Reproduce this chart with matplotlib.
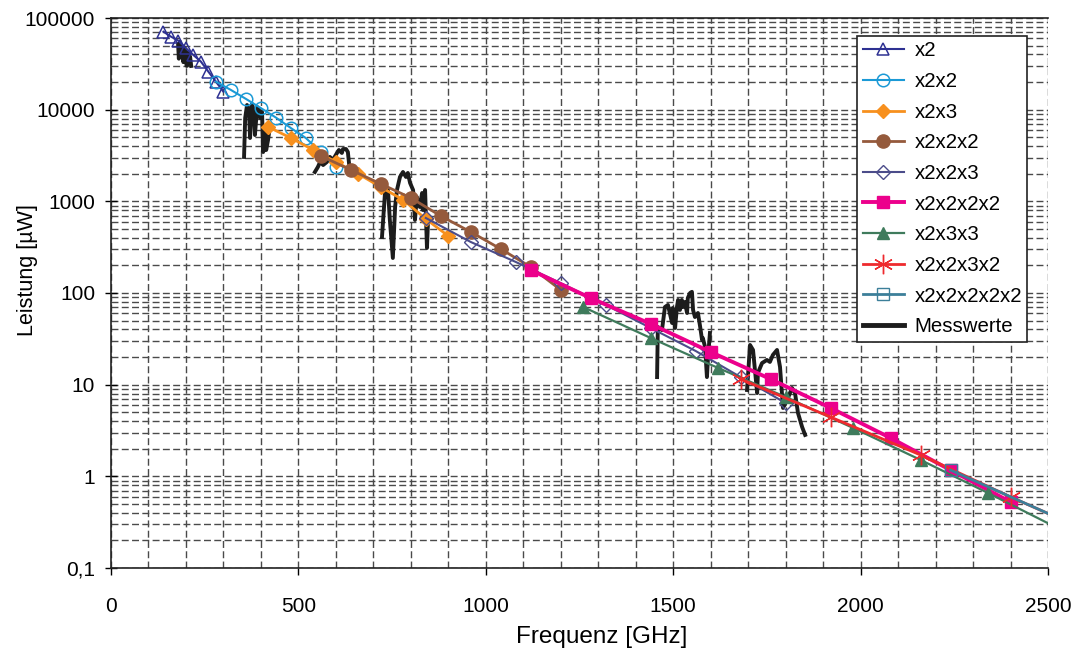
import numpy as np
import matplotlib
matplotlib.use("Agg")
import matplotlib.pyplot as plt
from matplotlib.ticker import FixedLocator, MultipleLocator, FuncFormatter, NullFormatter

plt.rcParams['font.family'] = ['Liberation Sans', 'DejaVu Sans']

# Frequency [GHz] and output power [µW] of each multiplier chain
f_x2 = [140, 160, 180, 200, 220, 240, 260, 280, 300]
p_x2 = [70900, 62600, 56500, 46700, 39400, 33400, 25900, 20200, 15700]

f_x2x2 = [280, 320, 360, 400, 440, 480, 520, 560, 600]
p_x2x2 = [20200, 16400, 13100, 10400, 8200, 6300, 4900, 3450, 2370]

f_x2x3 = [420, 480, 540, 600, 660, 720, 780, 840, 900]
p_x2x3 = [6470, 4910, 3630, 2690, 1990, 1430, 1034, 642, 419]

f_x2x2x2 = [560, 640, 720, 800, 880, 960, 1040, 1120, 1200]
p_x2x2x2 = [3130, 2200, 1550, 1090, 692, 463, 302, 192, 108]

f_x2x2x3 = [840, 960, 1080, 1200, 1320, 1440, 1560, 1680, 1800]
p_x2x2x3 = [658, 360, 218, 128, 74, 41.5, 23.3, 12.1, 6.3]

f_x2x2x2x2 = [1120, 1280, 1440, 1600, 1760, 1920, 2080, 2240, 2400]
p_x2x2x2x2 = [178, 88, 46, 22.7, 11.5, 5.57, 2.62, 1.17, 0.525]

f_x2x3x3 = [1260, 1440, 1620, 1800, 1980, 2160, 2340, 2520]
p_x2x3x3 = [70.3, 32.3, 15.2, 7.34, 3.37, 1.51, 0.658, 0.28]

f_x2x2x3x2 = [1680, 1920, 2160, 2400, 2640]
p_x2x2x3x2 = [11.5, 4.43, 1.71, 0.596, 0.22]

f_x2x2x2x2x2 = [2240, 2560]
p_x2x2x2x2x2 = [1.17, 0.306]

# Measured power, one sweep per frequency band
mess_f_1 = [179, 181, 184, 187, 190, 193, 196, 199, 202, 205, 208, 211, 214]
mess_p_1 = [52000, 36000, 55000, 47000, 41000, 33000, 47000, 40000, 30000, 42000, 32000, 38000, 30000]

mess_f_2 = [355, 358, 363, 368, 371, 376, 382, 384, 390, 395, 398, 403, 406, 411, 414, 419, 422]
mess_p_2 = [3050, 8110, 11250, 9910, 4910, 11540, 9430, 5290, 10680, 9910, 8110, 9430, 3450, 6310, 3630, 4670, 5700]

mess_f_3 = [544, 552, 558, 566, 576, 584, 592, 603, 608, 616, 619, 627, 632, 635]
mess_p_3 = [2090, 2370, 2690, 2490, 2690, 3050, 2830, 3370, 3630, 3370, 3720, 3720, 3450, 2620]

mess_f_4 = [723, 731, 739, 744, 752, 758, 763, 771, 779, 787, 792, 798, 806, 811, 816, 824, 830, 832, 838, 843, 846]
mess_p_4 = [408, 1233, 1330, 626, 241, 867, 1330, 1845, 2090, 1845, 2040, 1585, 1330, 626, 1115, 867, 1233, 805, 1330, 310, 626]

mess_f_5 = [1457, 1459, 1470, 1478, 1486, 1497, 1499, 1505, 1510, 1513, 1518, 1523, 1526, 1531,
            1537, 1539, 1545, 1550, 1553, 1558, 1566, 1572, 1577, 1579, 1585, 1590, 1593, 1598]
mess_p_5 = [12.1, 42.6, 39.4, 70.3, 74.0, 47.1, 68.6, 41.5, 70.3, 83.9, 65.3, 83.9, 70.3, 79.8,
            60.5, 88.2, 100, 103, 65.3, 54.7, 60.5, 42.6, 30.7, 32.3, 25.8, 12.1, 20.0, 36.6]

mess_f_6 = [1697, 1705, 1713, 1724, 1726, 1737, 1750, 1758, 1766, 1777, 1785, 1793, 1804, 1817, 1825, 1833, 1844, 1852]
mess_p_6 = [8.75, 27.1, 23.9, 8.1, 13.4, 17.2, 18.6, 17.7, 21.1, 23.9, 15.6, 5.57, 6.8, 9.2, 8.1, 4.9, 3.45, 2.83]

y_ticks = [0.1, 1, 10, 100, 1000, 10000, 100000]
y_tick_labels = ["0,1", "1", "10", "100", "1000", "10000", "100000"]
x_ticks = [0, 500, 1000, 1500, 2000, 2500]

fig = plt.figure(figsize=(10.72, 6.54), dpi=100)
ax = fig.add_axes([111 / 1072, 1 - 568 / 654, 937 / 1072, 550 / 654])

ax.set_xlim(0, 2500)
ax.set_yscale('log')
ax.set_ylim(0.1, 100000)

# dashed grid every 100 GHz and at 1..9 of each decade
grid_kw = dict(color='#4a4a4a', linewidth=1.0, linestyle=(0, (5, 2.4)))
ax.xaxis.set_major_locator(FixedLocator(x_ticks))
ax.xaxis.set_minor_locator(MultipleLocator(100))
ax.yaxis.set_major_locator(FixedLocator(y_ticks))
minor_y = [m * 10.0 ** e for e in range(-1, 5) for m in range(2, 10)]
ax.yaxis.set_minor_locator(FixedLocator(minor_y))
ax.yaxis.set_major_formatter(FuncFormatter(lambda v, p: y_tick_labels[y_ticks.index(v)] if v in y_ticks else ""))
ax.yaxis.set_minor_formatter(NullFormatter())
ax.grid(True, which='both', **grid_kw)
ax.set_axisbelow(True)

ax.tick_params(axis='y', which='major', direction='inout', length=8, width=1, labelsize=15, pad=7.5)
ax.tick_params(axis='y', which='minor', length=0)
ax.tick_params(axis='x', which='major', direction='out', length=5, width=1, labelsize=15, pad=16)
ax.tick_params(axis='x', which='minor', length=0)

for side in ('left', 'bottom', 'top'):
    ax.spines[side].set_linewidth(1.2)
    ax.spines[side].set_color('#222222')
ax.spines['right'].set_visible(False)

# measured data below the calculated chains
for mf, mp in [(mess_f_1, mess_p_1), (mess_f_2, mess_p_2), (mess_f_3, mess_p_3),
               (mess_f_4, mess_p_4), (mess_f_5, mess_p_5), (mess_f_6, mess_p_6)]:
    ax.plot(mf, mp, color='#1c1c1c', linewidth=2.8, solid_joinstyle='round', zorder=2)

series = [
    (f_x2, p_x2, 'x2', dict(color='#2e3192', marker='^', mfc='none', mec='#2e3192', ms=9, lw=1.5, mew=1.1)),
    (f_x2x2, p_x2x2, 'x2x2', dict(color='#1b9ad6', marker='o', mfc='none', mec='#1b9ad6', ms=9, lw=1.5, mew=1.1)),
    (f_x2x3, p_x2x3, 'x2x3', dict(color='#f7901e', marker='D', mfc='#f7901e', mec='#f7901e', ms=7, lw=2.0)),
    (f_x2x2x2, p_x2x2x2, 'x2x2x2', dict(color='#955a3c', marker='o', mfc='#955a3c', mec='#955a3c', ms=9.5, lw=2.0)),
    (f_x2x2x3, p_x2x2x3, 'x2x2x3', dict(color='#4b4c8a', marker='D', mfc='none', mec='#4b4c8a', ms=7, lw=1.5, mew=1.0)),
    (f_x2x2x2x2, p_x2x2x2x2, 'x2x2x2x2', dict(color='#ec008c', marker='s', mfc='#ec008c', mec='#ec008c', ms=8, lw=2.8)),
    (f_x2x3x3, p_x2x3x3, 'x2x3x3', dict(color='#3f7b5c', marker='^', mfc='#3f7b5c', mec='#3f7b5c', ms=8, lw=1.6)),
    (f_x2x2x3x2, p_x2x2x3x2, 'x2x2x3x2', dict(color='#ee2a2e', marker=(6, 2, 0), mec='#ee2a2e', ms=14, lw=2.0, mew=1.0)),
    (f_x2x2x2x2x2, p_x2x2x2x2x2, 'x2x2x2x2x2', dict(color='#3c7f99', marker='s', mfc='none', mec='#3c7f99', ms=8, lw=2.0, mew=1.0)),
]

handles = []
for fx, px, name, kw in series:
    h, = ax.plot(fx, px, label=name, zorder=3, **kw)
    handles.append(h)

hm, = ax.plot([], [], color='#1c1c1c', linewidth=3.5, label='Messwerte')
handles.append(hm)

leg = ax.legend(handles=handles, loc='upper right', bbox_to_anchor=(0.978, 0.967),
                borderaxespad=0, fontsize=14.7, frameon=True, fancybox=False,
                edgecolor='#222222', framealpha=1, labelspacing=0.57, handlelength=2.05,
                handletextpad=0.5, borderpad=0.26)
leg.get_frame().set_linewidth(1.2)

fig.text(602 / 1072, 1 - 637 / 654, 'Frequenz [GHz]', ha='center', va='center', fontsize=17.5)
fig.text(28 / 1072, 1 - 270 / 654, 'Leistung [µW]', ha='center', va='center', rotation=90, fontsize=15.5)

fig.savefig('out.png', dpi=100)
